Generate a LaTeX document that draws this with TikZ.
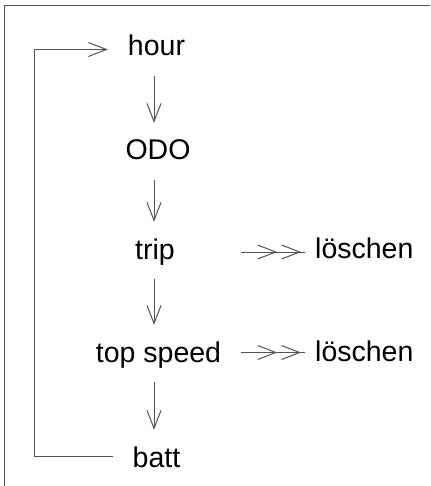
\documentclass[tikz,border=0pt]{standalone}
\usepackage{fontspec}
\setmainfont{Liberation Sans}
\usetikzlibrary{arrows.meta}
\definecolor{ln}{gray}{0.32}
\begin{document}
\begin{tikzpicture}[x=1pt,y=-1pt,
  lbl/.style={anchor=base, inner xsep=20pt, inner ysep=17pt, text height=20pt, text depth=3pt, font=\fontsize{28.5}{34}\selectfont},
  del/.style={lbl, inner xsep=10pt, anchor=base west},
  vbarb/.tip={Straight Barb[length=18pt,width=14pt]},
  arr/.style={draw=ln, line width=1pt, -{vbarb}},
  darr/.style={draw=ln, line width=1pt, -{vbarb[sep=4pt]vbarb[sep=4pt]}, postaction={draw=ln, -}}]
\useasboundingbox (0,0) rectangle (430,486);
\clip (0,0) rectangle (430,486);
\draw[ln, line width=1.5pt] (4.5,5.5) rectangle (440,500);
\node[lbl] (hour) at (156.5,56) {hour};
\node[lbl] (odo) at (158,160) {ODO};
\node[lbl] (trip) at (155,259) {trip};
\node[lbl] (tsp) at (158.5,362) {top speed};
\node[lbl] (batt) at (156.5,467) {batt};
\node[del] (l1) at (305,258) {löschen};
\node[del] (l2) at (305,361) {löschen};
\coordinate (ax) at (154,0);
\coordinate (lx) at (34,0);
\draw[arr] (hour.south -| ax) -- (odo.north -| ax);
\draw[arr] (odo.south -| ax) -- (trip.north -| ax);
\draw[arr] (trip.south -| ax) -- (tsp.north -| ax);
\draw[arr] (tsp.south -| ax) -- (batt.north -| ax);
\draw[darr] ([yshift=-2.5pt]l1.west -| tsp.east) -- ([yshift=-2.5pt]l1.west);
\draw[darr] (l2.west -| tsp.east) -- (l2.west);
\draw[arr] ([yshift=2.5pt]batt.west) -- ([yshift=2.5pt]batt.west -| lx) |- ([yshift=-2pt]hour.west);
\end{tikzpicture}
\end{document}
